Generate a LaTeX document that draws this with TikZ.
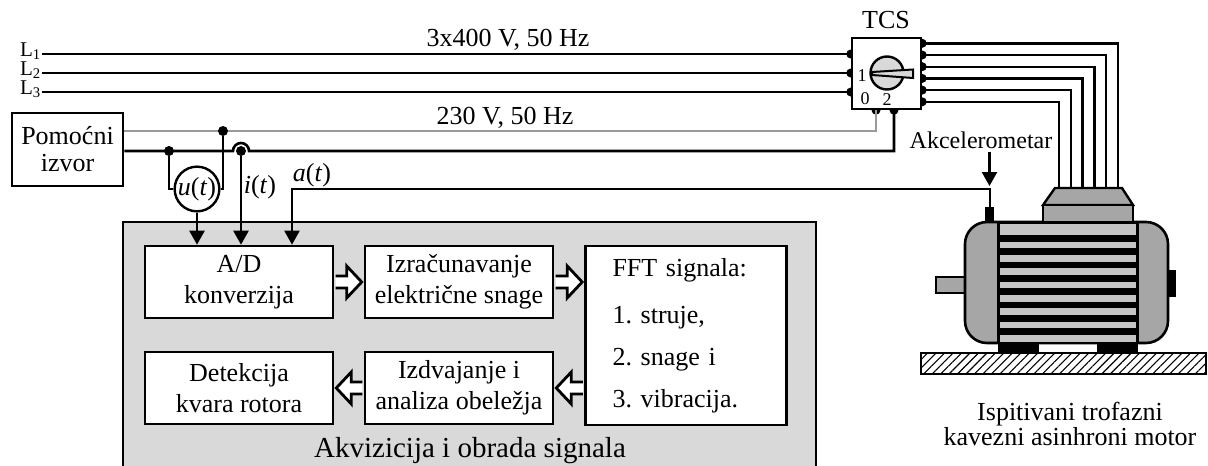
\documentclass[tikz,border=0pt]{standalone}
\usepackage{fontspec}
\setmainfont{Liberation Serif}
\usetikzlibrary{arrows.meta, calc, patterns.meta, positioning}
\frenchspacing

\definecolor{sivaobrada}{HTML}{D9D9D9}
\definecolor{sivamotor}{HTML}{A6A6A6}
\definecolor{sivatraka}{HTML}{C4C4C4}
\definecolor{sivalinija}{HTML}{9A9A9A}

\tikzset{
    blok/.style={
        draw,
        fill=white,
        line width=2.6pt, % debljina okvira
        minimum width=188pt,
        minimum height=72pt,
        inner sep=0,
        align=center,
        font=\fontsize{26}{31}\selectfont
    },
    tekst/.style={inner sep=0, font=\fontsize{26}{31}\selectfont},
    faza/.style={inner sep=0, anchor=base east, font=\fontsize{21}{23}\selectfont},
    vod/.style={line width=2.6pt},
    sivivod/.style={line width=2.6pt, draw=sivalinija},
    tacka/.style={circle, fill, inner sep=0, minimum size=10pt},
    ulaz/.style={line width=2.4pt, -{Triangle[width=15pt,length=14pt]}},
    prazna/.style={line width=2.8pt, fill=white, line join=miter}
}

% hollow block arrow between two box anchors (horizontal)
\newcommand{\blokstrelica}[2]{%
    \filldraw[prazna] let \p1=(#1), \p2=(#2), \n1={ifthenelse(\x2>\x1,1,-1)} in
        (\x1+1.3pt*\n1,\y1+6pt) -- (\x2-17pt*\n1,\y1+6pt) -- (\x2-17pt*\n1,\y1+16pt)
        -- (\x2-2pt*\n1,\y1) -- (\x2-17pt*\n1,\y1-16pt) -- (\x2-17pt*\n1,\y1-6pt)
        -- (\x1+1.3pt*\n1,\y1-6pt);
}

\begin{document}
\begin{tikzpicture}[x=1pt, y=-1pt]
    \useasboundingbox (0,0) rectangle (1208,466);

    % blok akvizicije
    \fill[sivaobrada] (123,222) rectangle (816,466);
    \draw[vod] (123,466) -- (123,222) -- (816,222) -- (816,466);
    \node[tekst, font=\fontsize{29}{34}\selectfont] (obrada) at (470,451) {Akvizicija i obrada signala};

    \node[blok] (ad) at (239,282) {A/D\\konverzija};
    \node[blok] (izr) at (459,282) {Izračunavanje\\električne snage};
    \node[blok, minimum width=201pt, minimum height=179pt, text width=147pt,
          inner xsep=27pt, align=left, font=\fontsize{26}{42}\selectfont] (fft) at (686,335.5)
          {FFT signala:\\[5pt]1. struje,\\2. snage i\\3. vibracija.};
    \node[blok] (det) at (239,388) {Detekcija\\kvara rotora};
    \node[blok] (izd) at (459,388) {Izdvajanje i\\analiza obeležja};

    \blokstrelica{ad.east}{izr.west}
    \blokstrelica{izr.east}{fft.west |- izr.east}
    \blokstrelica{fft.west |- izd.east}{izd.east}
    \blokstrelica{izd.west}{det.east}

    % mreza i prekidac
    \node[faza] (l1lbl) at (41,56) {L\textsubscript{1}};
    \node[faza] (l2lbl) at (41,75) {L\textsubscript{2}};
    \node[faza] (l3lbl) at (41,94) {L\textsubscript{3}};
    \coordinate (l1) at (42,54);
    \coordinate (l2) at (42,73);
    \coordinate (l3) at (42,92);

    \node[draw, fill=white, line width=2.4pt, minimum width=69pt, minimum height=71pt, inner sep=0] (tcs) at (886.5,73.5) {};
    \node[tekst] (tcslbl) at (886,20) {TCS};
    \coordinate (t0) at ([xshift=-10.5pt]tcs.south);
    \coordinate (t2) at ([xshift=7.5pt]tcs.south);

    \foreach \l in {l1,l2,l3} {
        \draw[vod] (\l) -- (\l -| tcs.west);
        \fill (\l -| tcs.west) ++(0,-4.5) arc[start angle=90, end angle=270, radius=4.5pt] -- cycle;
    }
    \foreach \t in {t0,t2}
        \fill (\t) ++(-4.5,0) arc[start angle=180, end angle=360, radius=4.5pt] -- cycle;

    % izlazi prema motoru
    \foreach \i in {0,...,5} {
        \draw[vod, line width=2.4pt] ([yshift={-6.5pt-11.7pt*\i}]tcs.north east) -| ({1118-11.8*\i},190);
        \fill ([yshift={-6.5pt-11.7pt*\i}]tcs.north east) ++(0,4.5) arc[start angle=-90, end angle=90, radius=4.5pt] -- cycle;
    }

    % preklopka
    \node[circle, draw, fill=sivaobrada, line width=2.4pt, minimum size=33pt, inner sep=0] (knob) at (887,73) {};
    \filldraw[fill=sivaobrada, line width=2pt] (872,72) -- (913,69.5) -- (913,78) -- (872,75) -- cycle;
    \node[tekst, font=\fontsize{18}{20}\selectfont] (p1) at (862,76) {1};
    \node[tekst, font=\fontsize{18}{20}\selectfont] (p0) at (865,99) {0};
    \node[tekst, font=\fontsize{18}{20}\selectfont] (p2) at (887,100) {2};

    \node[tekst] (napon3) at (508,40) {3x400 V, 50 Hz};
    \node[tekst] (napon1) at (505,118) {230 V, 50 Hz};

    % pomocni izvor i merenja
    \node[blok, minimum width=111pt, minimum height=73pt, font=\fontsize{26}{27}\selectfont] (izvor) at (67.5,149.5) {Pomoćni\\izvor};
    \coordinate (g) at (0,131);
    \coordinate (c) at (0,151);

    \draw[sivivod] (izvor.east |- g) -| (t0);
    \draw[vod] (izvor.east |- c) -- (233,151) arc[start angle=180, end angle=0, radius=8pt] -- (t2 |- c) -- (t2);

    \node[tacka] (d1) at (169,151) {};
    \node[tacka] (d2) at (223,131) {};
    \node[tacka] (d3) at (241,151) {};

    \node[circle, draw, fill=white, line width=2.4pt, minimum size=40pt, inner sep=0, tekst] (un) at (197,189) {\textit{u}(\textit{t})};
    \draw[vod] (d1) |- (un.west);
    \draw[vod] (un.east) -| (d2);
    \draw[ulaz] (un.south) -- (un.south |- ad.north);
    \draw[ulaz] (d3) -- (d3 |- ad.north);
    \node[tekst] (ilbl) at (260,187) {\textit{i}(\textit{t})};

    % akcelerometar
    \node[fill, minimum width=9pt, minimum height=16pt, inner sep=0] (akc) at (989.5,215) {};
    \coordinate (at) at (292,189);
    \draw[ulaz, line width=2pt] (akc.north) |- (at) -- (at |- ad.north);
    \node[tekst] (albl) at (312,175) {\textit{a}(\textit{t})};
    \node[tekst, font=\fontsize{24}{28}\selectfont] (akclbl) at (981,140) {Akcelerometar};
    \draw[ulaz] (akc |- akclbl.south) ++(0,3) -- ([yshift=3pt]akc |- at);

    % motor
    \filldraw[fill=sivamotor, line width=2pt] (936,277) rectangle (966,293);
    \fill (1166,270) rectangle (1176,297);
    \filldraw[fill=sivamotor, line width=2.6pt, rounded corners=22pt] (965,222) rectangle (1168,343);
    \filldraw[line width=2.6pt] (998,222) rectangle (1138,343);
    \fill[sivatraka] (1000,224) rectangle (1136,235);
    \foreach \i in {1,...,8}
        \fill[sivatraka] (1000,{228.4+13.3*\i}) rectangle (1136,{235.1+13.3*\i});
    \filldraw[fill=sivamotor, line width=2.4pt] (1055,188) -- (1122,188) -- (1133,205) -- (1043,205) -- cycle;
    \filldraw[fill=sivamotor, line width=2.4pt] (1043,205) rectangle (1133,222);
    \fill (998,343) rectangle (1039,353);
    \fill (1097,343) rectangle (1138,353);
    \draw[line width=2pt, pattern={Lines[angle=45, distance=6pt, line width=1.1pt]}] (921,353) rectangle (1206,374);

    \node[tekst, align=center, font=\fontsize{26}{25}\selectfont] (mlbl) at (1070,424) {Ispitivani trofazni\\kavezni asinhroni motor};
\end{tikzpicture}
\end{document}
